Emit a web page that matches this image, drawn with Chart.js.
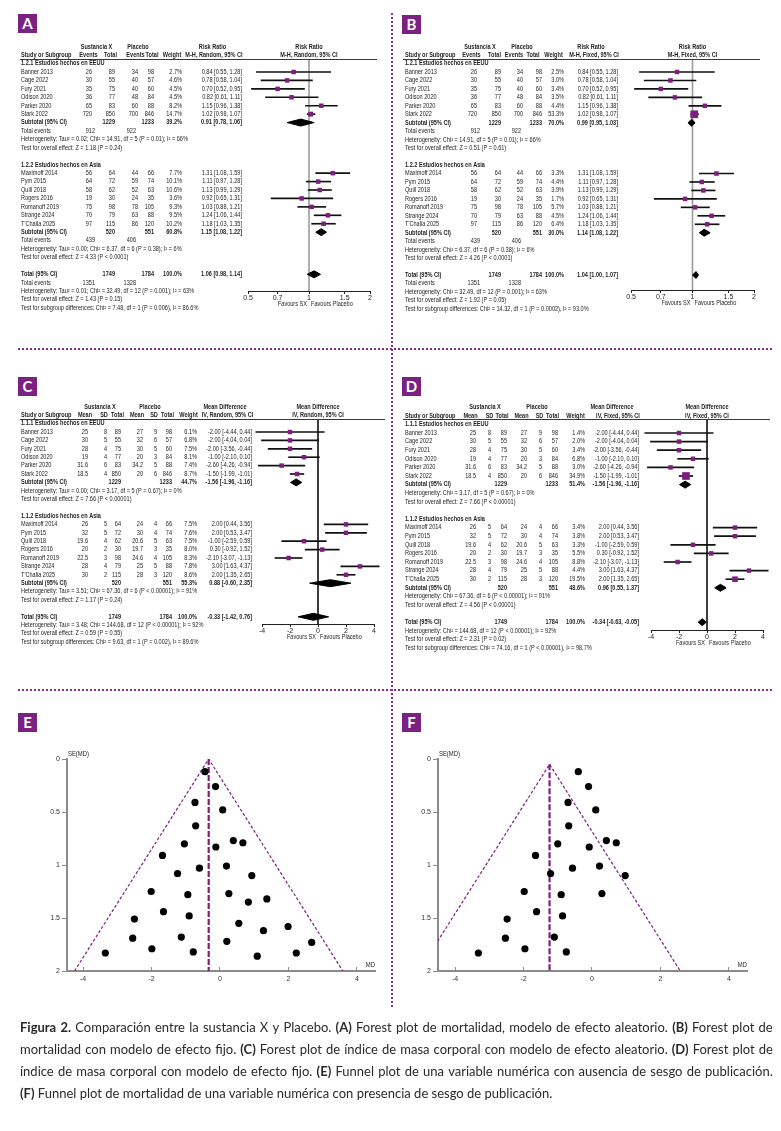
<!DOCTYPE html>
<html lang="es">
<head>
<meta charset="utf-8">
<title>Figura 2 - Sustancia X vs Placebo</title>
<script src="https://cdn.jsdelivr.net/npm/chart.js@4.4.1/dist/chart.umd.min.js"></script>
<style>
  html, body { margin: 0; padding: 0; background: #fff; }
  #page { position: relative; width: 781px; height: 1131px; overflow: hidden; background: #fff; }
  #page canvas { position: absolute; left: 0; top: 0; }
  .tag { position: absolute; width: 19px; height: 19px; background: #7a2182; color: #fff;
         font: bold 15px Lato, sans-serif; line-height: 19px; text-align: center; }
  .dots { position: absolute; }
  .dots.h { height: 2px; background: repeating-linear-gradient(90deg, #8b2c8f 0 2px, transparent 2px 4px); }
  .dots.v { width: 2px; background: repeating-linear-gradient(180deg, #8b2c8f 0 2px, transparent 2px 4px); }
  #caption { position: absolute; left: 20px; top: 1016px; width: 753px; font: 13px Lato, sans-serif;
             color: #2a2a2a; line-height: 22px; }
  #caption .ln { display: flex; justify-content: space-between; white-space: nowrap; }
  #caption .last { white-space: nowrap; }
</style>
</head>
<body>
<div id="page">
  <canvas id="forestA" width="781" height="1131"></canvas>
  <canvas id="forestB" width="781" height="1131"></canvas>
  <canvas id="forestC" width="781" height="1131"></canvas>
  <canvas id="forestD" width="781" height="1131"></canvas>
  <canvas id="funnelE" width="781" height="1131"></canvas>
  <canvas id="funnelF" width="781" height="1131"></canvas>

  <div class="dots h" style="left:18px;top:348px;width:754px"></div>
  <div class="dots h" style="left:18px;top:689px;width:754px"></div>
  <div class="dots v" style="left:391px;top:13px;height:995px"></div>

  <div class="tag" style="left:18px;top:14px">A</div>
  <div class="tag" style="left:402px;top:15px">B</div>
  <div class="tag" style="left:18px;top:377px">C</div>
  <div class="tag" style="left:402px;top:377px">D</div>
  <div class="tag" style="left:18px;top:713px">E</div>
  <div class="tag" style="left:402px;top:713px">F</div>

  <div id="caption"></div>
</div>

<script>
// ---------- values ----------
const groupSizes = [6, 7];
const titlesMort = ['1.2.1 Estudios hechos en EEUU', '1.2.2 Estudios hechos en Asia'];
const titlesBmi = ['1.1.1 Estudios hechos en EEUU', '1.1.2 Estudios hechos en Asia'];
const studyNames = ['Banner 2013', 'Cage 2022', 'Fury 2021', 'Odison 2020', 'Parker 2020', 'Stark 2022',
  'Maximoff 2014', 'Pym 2015', 'Quill 2018', 'Rogers 2016', 'Romanoff 2019', 'Strange 2024', "T'Challa 2025"];
const sxTotal = [89, 55, 75, 77, 83, 850, 64, 72, 62, 30, 98, 79, 115];
const plTotal = [98, 57, 60, 84, 88, 846, 66, 74, 63, 35, 105, 88, 120];
const subTotalSx = [1229, 520];
const subTotalPl = [1233, 551];
const totalN = [1749, 1784];

// mortality, risk ratio (A, B)
const sxEvents = [26, 30, 35, 36, 65, 720, 56, 64, 58, 19, 75, 70, 97];
const plEvents = [34, 40, 40, 48, 60, 700, 44, 59, 52, 24, 78, 63, 86];
const subEventsSx = [912, 439];
const subEventsPl = [922, 406];
const totalEvents = [1351, 1328];
const rr = [0.84, 0.78, 0.70, 0.82, 1.15, 1.02, 1.31, 1.11, 1.13, 0.92, 1.03, 1.24, 1.18];
const rrLow = [0.55, 0.58, 0.52, 0.61, 0.96, 0.98, 1.08, 0.97, 0.99, 0.65, 0.88, 1.06, 1.03];
const rrHigh = [1.28, 1.04, 0.95, 1.11, 1.38, 1.07, 1.59, 1.28, 1.29, 1.31, 1.21, 1.44, 1.35];
const weightA = [2.7, 4.6, 4.5, 4.5, 8.2, 14.7, 7.7, 10.1, 10.6, 3.6, 9.3, 9.5, 10.2];
const weightB = [2.5, 3.0, 3.4, 3.5, 4.4, 53.3, 3.3, 4.4, 3.9, 1.7, 5.7, 4.5, 6.4];
const poolA = [0.91, 1.15, 1.06];
const poolLowA = [0.78, 1.08, 0.98];
const poolHighA = [1.06, 1.22, 1.14];
const poolWeightA = [39.2, 60.8, 100];
const poolB = [0.99, 1.14, 1.04];
const poolLowB = [0.95, 1.08, 1.00];
const poolHighB = [1.03, 1.22, 1.07];
const poolWeightB = [70.0, 30.0, 100];
const statsA = [
  'Heterogeneity: Tau² = 0.02; Chi² = 14.91, df = 5 (P = 0.01); I² = 66%',
  'Test for overall effect: Z = 1.18 (P = 0.24)',
  'Heterogeneity: Tau² = 0.00; Chi² = 6.37, df = 6 (P = 0.38); I² = 6%',
  'Test for overall effect: Z = 4.33 (P < 0.0001)',
  'Heterogeneity: Tau² = 0.01; Chi² = 32.49, df = 12 (P = 0.001); I² = 63%',
  'Test for overall effect: Z = 1.43 (P = 0.15)',
  'Test for subgroup differences: Chi² = 7.48, df = 1 (P = 0.006), I² = 86.6%'
];
const statsB = [
  'Heterogeneity: Chi² = 14.91, df = 5 (P = 0.01); I² = 66%',
  'Test for overall effect: Z = 0.51 (P = 0.61)',
  'Heterogeneity: Chi² = 6.37, df = 6 (P = 0.38); I² = 6%',
  'Test for overall effect: Z = 4.26 (P < 0.0001)',
  'Heterogeneity: Chi² = 32.49, df = 12 (P = 0.001); I² = 63%',
  'Test for overall effect: Z = 1.92 (P = 0.05)',
  'Test for subgroup differences: Chi² = 14.32, df = 1 (P = 0.0002), I² = 93.0%'
];

// body mass index, mean difference (C, D)
const sxMean = [25, 30, 28, 19, 31.6, 18.5, 26, 32, 19.6, 20, 22.5, 28, 30];
const sxSd = [8, 5, 4, 4, 6, 4, 5, 5, 4, 2, 3, 4, 2];
const plMean = [27, 32, 30, 20, 34.2, 20, 24, 30, 20.6, 19.7, 24.6, 25, 28];
const plSd = [9, 6, 5, 3, 5, 6, 4, 4, 5, 3, 4, 5, 3];
const md = [-2.00, -2.00, -2.00, -1.00, -2.60, -1.50, 2.00, 2.00, -1.00, 0.30, -2.10, 3.00, 2.00];
const mdLow = [-4.44, -4.04, -3.56, -2.10, -4.26, -1.99, 0.44, 0.53, -2.59, -0.92, -3.07, 1.63, 1.35];
const mdHigh = [0.44, 0.04, -0.44, 0.10, -0.94, -1.01, 3.56, 3.47, 0.59, 1.52, -1.13, 4.37, 2.65];
const weightC = [6.1, 6.8, 7.5, 8.1, 7.4, 8.7, 7.5, 7.6, 7.5, 8.0, 8.3, 7.8, 8.6];
const weightD = [1.4, 2.0, 3.4, 6.8, 3.0, 34.9, 3.4, 3.8, 3.3, 5.5, 8.8, 4.4, 19.5];
const poolC = [-1.56, 0.88, -0.33];
const poolLowC = [-1.96, -0.60, -1.42];
const poolHighC = [-1.16, 2.35, 0.76];
const poolWeightC = [44.7, 55.3, 100];
const poolD = [-1.56, 0.96, -0.34];
const poolLowD = [-1.96, 0.55, -0.63];
const poolHighD = [-1.16, 1.37, -0.05];
const poolWeightD = [51.4, 48.6, 100];
const statsC = [
  'Heterogeneity: Tau² = 0.00; Chi² = 3.17, df = 5 (P = 0.67); I² = 0%',
  'Test for overall effect: Z = 7.66 (P < 0.00001)',
  'Heterogeneity: Tau² = 3.51; Chi² = 67.36, df = 6 (P < 0.00001); I² = 91%',
  'Test for overall effect: Z = 1.17 (P = 0.24)',
  'Heterogeneity: Tau² = 3.48; Chi² = 144.68, df = 12 (P < 0.00001); I² = 92%',
  'Test for overall effect: Z = 0.59 (P = 0.55)',
  'Test for subgroup differences: Chi² = 9.63, df = 1 (P = 0.002), I² = 89.6%'
];
const statsD = [
  'Heterogeneity: Chi² = 3.17, df = 5 (P = 0.67); I² = 0%',
  'Test for overall effect: Z = 7.66 (P < 0.00001)',
  'Heterogeneity: Chi² = 67.36, df = 6 (P < 0.00001); I² = 91%',
  'Test for overall effect: Z = 4.56 (P < 0.00001)',
  'Heterogeneity: Chi² = 144.68, df = 12 (P < 0.00001); I² = 92%',
  'Test for overall effect: Z = 2.31 (P = 0.02)',
  'Test for subgroup differences: Chi² = 74.16, df = 1 (P < 0.00001), I² = 98.7%'
];

const rrTicks = [0.5, 0.7, 1, 1.5, 2];
const rrTickLabels = ['0.5', '0.7', '1', '1.5', '2'];
const mdTicks = [-4, -2, 0, 2, 4];
const mdTickLabels = ['-4', '-2', '0', '2', '4'];
const seTicks = [0, 0.5, 1, 1.5, 2];
const seTickLabels = ['0', '0.5', '1', '1.5', '2'];

// funnel plots (E, F)
const funnelEmd = [-0.44, -0.13, -0.73, 0.08, -0.71, 0.39, 0.67, -1.04, -0.12, -1.68, -0.60, 0.19, -1.24, 0.93,
  -2.01, -0.94, 0.26, 1.37, 0.83, -1.65, -2.50, -0.90, 0.55, 1.99, 1.27, -2.55, -1.13, 0.20, 2.68, -3.35, -1.99,
  -0.78, 2.23, 1.09];
const funnelEse = [0.12, 0.26, 0.41, 0.48, 0.63, 0.77, 0.79, 0.80, 0.83, 0.91, 1.03, 1.01, 1.08, 1.10,
  1.25, 1.28, 1.27, 1.32, 1.35, 1.44, 1.51, 1.48, 1.55, 1.58, 1.62, 1.69, 1.68, 1.72, 1.73, 1.83, 1.79,
  1.82, 1.83, 1.86];
const funnelEtriMd = [-4.25, -0.33, 3.59];
const funnelEtriSe = [2, 0, 2];
const funnelEmeanMd = [-0.33, -0.33];
const funnelEmeanSe = [0, 2];

const funnelFmd = [-0.40, -0.10, -0.70, 0.11, -0.68, 0.42, 0.71, -1.00, -0.08, -1.65, -0.57, 0.22, -1.21, 0.97,
  -1.98, -0.90, 0.29, -1.62, -2.48, -0.86, -2.53, -1.10, -3.32, -1.96, -0.75];
const funnelFse = [0.12, 0.26, 0.41, 0.48, 0.63, 0.77, 0.79, 0.80, 0.83, 0.91, 1.03, 1.01, 1.08, 1.10,
  1.25, 1.28, 1.27, 1.44, 1.51, 1.48, 1.69, 1.68, 1.83, 1.79, 1.82];
const funnelFtriMd = [-5.06, -1.24, 2.58];
const funnelFtriSe = [2, 0.05, 2];
const funnelFmeanMd = [-1.24, -1.24];
const funnelFmeanSe = [0.05, 2];

const captionLines = [
  'Figura 2. Comparación entre la sustancia X y Placebo. (A) Forest plot de mortalidad, modelo de efecto aleatorio. (B) Forest plot de',
  'mortalidad con modelo de efecto fijo. (C) Forest plot de índice de masa corporal con modelo de efecto aleatorio. (D) Forest plot de',
  'índice de masa corporal con modelo de efecto fijo. (E) Funnel plot de una variable numérica con ausencia de sesgo de publicación.',
  '(F) Funnel plot de mortalidad de una variable numérica con presencia de sesgo de publicación.'
];

// ---------- drawing ----------
const W = 781, H = 1131;
const PURPLE = '#7e1f80';
const INK = '#1f1f1f';
const FONT = '"Liberation Sans", Arial, sans-serif';
const NARROW = 0.82;
const FOREST_AXIS_H = 20;
const FUNNEL_X_H = 16, FUNNEL_Y_W = 20;

Chart.defaults.font.family = FONT;
Chart.defaults.animation = false;

// page geometry of each panel (pixels)
const geoA = { left: 248, right: 370, top: 59, axisY: 291, row0: 72, pitch: 8.43, studyX: 21, rule: [20, 377],
  grp: [96.5, 138, 212.5],
  head: { e1: 88.5, n1: 110.5, e2: 135.5, n2: 152, w: 172, ci: 214 },
  val: { e1: 92, n1: 115, e2: 138, n2: 154, w: 182, ci: 242, t1: 95, t2: 136 },
  refColor: '#9b9b9b', refWidth: 1.6 };
const geoB = { left: 631, right: 754, top: 59, axisY: 290, row0: 72, pitch: 8.46, studyX: 405, rule: [403, 760],
  grp: [480, 522, 591],
  head: { e1: 471.5, n1: 494.5, e2: 514, n2: 533, w: 553.5, ci: 594 },
  val: { e1: 477, n1: 501, e2: 523, n2: 542, w: 564, ci: 618, t1: 480, t2: 521 },
  refColor: '#9b9b9b', refWidth: 1.6 };
const geoC = { left: 262, right: 374, top: 419, axisY: 624, row0: 432, pitch: 8.4, studyX: 21, rule: [20, 385],
  grp: [100, 150, 225],
  head: { m1: 85, s1: 104, n1: 117.5, m2: 137, s2: 154, n2: 167.5, w: 188.5, ci: 227.5 },
  val: { m1: 88, s1: 107, n1: 121, m2: 143, s2: 157, n2: 172, w: 197, ci: 252 },
  refColor: '#222', refWidth: 1 };
const geoD = { left: 651, right: 763, top: 419, axisY: 630, row0: 433, pitch: 8.6, studyX: 405, rule: [403, 770],
  grp: [485, 537, 612],
  head: { m1: 470.5, s1: 489.5, n1: 502, m2: 521.5, s2: 539.5, n2: 552.5, w: 575.5, ci: 618 },
  val: { m1: 476, s1: 491, n1: 507, m2: 527, s2: 542, n2: 558, w: 585, ci: 639 },
  refColor: '#222', refWidth: 1 };
const geoE = { left: 67, right: 375, top: 759, bottom: 971, xMin: -4.47, xMax: 4.53 };
const geoF = { left: 438, right: 747, top: 759, bottom: 971, xMin: -4.5, xMax: 4.53 };

function label(ctx, s, x, y, align, bold, size) {
  ctx.save();
  ctx.translate(x, y);
  ctx.scale(NARROW, 1);
  ctx.font = (bold ? 'bold ' : '') + (size || 6.8) + 'px ' + FONT;
  ctx.textAlign = align || 'left';
  ctx.textBaseline = 'middle';
  ctx.fillStyle = INK;
  ctx.fillText(s, 0, 0);
  ctx.restore();
}

const ciText = (e, l, h) => `${e.toFixed(2)} [${l.toFixed(2)}, ${h.toFixed(2)}]`;
const squareSide = w => Math.min(7.7, 4.5 + Math.max(0, w - 12) * 0.15);
const diamond = (e, lo, hi, r, h) => [
  { x: lo, y: r }, { x: e, y: r - h }, { x: hi, y: r }, { x: e, y: r + h }, { x: lo, y: r }
];

// row numbers of every line of a forest table
function forestLayout(hasEvents) {
  const L = { study: [], sub: [], subEvents: [], het: [], z: [], title: [] };
  let r = -1;
  groupSizes.forEach(n => {
    L.title.push(r++);
    for (let k = 0; k < n; k++) L.study.push(r++);
    L.sub.push(r++);
    if (hasEvents) L.subEvents.push(r++);
    L.het.push(r++);
    L.z.push(r++);
    r++;
  });
  L.total = r++;
  if (hasEvents) L.totEvents = r++;
  L.totHet = r++;
  L.totZ = r++;
  L.subDiff = r++;
  return L;
}

function forestRows(p, L) {
  const isRR = p.kind === 'rr';
  const rows = [];
  let s = 0;
  groupSizes.forEach((n, g) => {
    rows.push({ r: L.title[g], text: p.titles[g], bold: true });
    for (let k = 0; k < n; k++, s++) {
      const cells = isRR
        ? { e1: sxEvents[s], n1: sxTotal[s], e2: plEvents[s], n2: plTotal[s] }
        : { m1: sxMean[s], s1: sxSd[s], n1: sxTotal[s], m2: plMean[s], s2: plSd[s], n2: plTotal[s] };
      cells.w = p.w[s].toFixed(1) + '%';
      cells.ci = ciText(p.est[s], p.lo[s], p.hi[s]);
      rows.push({ r: L.study[s], text: studyNames[s], cells });
    }
    rows.push({ r: L.sub[g], text: 'Subtotal (95% CI)', bold: true, cells: {
      n1: subTotalSx[g], n2: subTotalPl[g], w: p.poolW[g].toFixed(1) + '%',
      ci: ciText(p.pool[g], p.poolLo[g], p.poolHi[g]) } });
    if (isRR) rows.push({ r: L.subEvents[g], text: 'Total events', cells: { t1: subEventsSx[g], t2: subEventsPl[g] } });
    rows.push({ r: L.het[g], text: p.stats[2 * g] });
    rows.push({ r: L.z[g], text: p.stats[2 * g + 1] });
  });
  rows.push({ r: L.total, text: 'Total (95% CI)', bold: true, cells: {
    n1: totalN[0], n2: totalN[1], w: p.poolW[2].toFixed(1) + '%', ci: ciText(p.pool[2], p.poolLo[2], p.poolHi[2]) } });
  if (isRR) rows.push({ r: L.totEvents, text: 'Total events', cells: { t1: totalEvents[0], t2: totalEvents[1] } });
  rows.push({ r: L.totHet, text: p.stats[4] });
  rows.push({ r: L.totZ, text: p.stats[5] });
  rows.push({ r: L.subDiff, text: p.stats[6] });
  return rows;
}

function tablePlugin(p, L) {
  const g = p.geo;
  const rows = forestRows(p, L);
  const heads = p.kind === 'rr'
    ? { e1: 'Events', n1: 'Total', e2: 'Events', n2: 'Total', w: 'Weight', ci: p.method }
    : { m1: 'Mean', s1: 'SD', n1: 'Total', m2: 'Mean', s2: 'SD', n2: 'Total', w: 'Weight', ci: p.method };
  return {
    id: 'forestTable',
    afterDraw(chart) {
      const { ctx, chartArea: a, scales: { y } } = chart;
      const Y = r => y.getPixelForValue(r);
      const mid = (a.left + a.right) / 2;
      ctx.save();
      ctx.strokeStyle = '#3a3a3a';
      ctx.lineWidth = 1;
      ctx.beginPath();
      ctx.moveTo(g.rule[0], Math.round(a.top) + 0.5);
      ctx.lineTo(g.rule[1], Math.round(a.top) + 0.5);
      ctx.stroke();
      ctx.restore();

      ['Sustancia X', 'Placebo', p.effect].forEach((t, i) => label(ctx, t, g.grp[i], Y(-3), 'center', true));
      label(ctx, p.effect, mid, Y(-3), 'center', true);
      label(ctx, 'Study or Subgroup', g.studyX, Y(-2), 'left', true);
      Object.keys(heads).forEach(k => label(ctx, heads[k], g.head[k], Y(-2), 'center', true));
      label(ctx, p.method, mid, Y(-2), 'center', true);

      rows.forEach(row => {
        label(ctx, row.text, g.studyX, Y(row.r), 'left', row.bold);
        if (row.cells) {
          Object.keys(row.cells).forEach(k =>
            label(ctx, String(row.cells[k]), g.val[k], Y(row.r), 'right', row.bold));
        }
      });

      label(ctx, 'Favours SX', mid - 2, g.axisY + 13, 'right');
      label(ctx, 'Favours Placebo', mid + 2, g.axisY + 13, 'left');
    }
  };
}

function forestChart(id, p) {
  const g = p.geo;
  const L = forestLayout(p.kind === 'rr');
  const yMin = (g.top - g.row0) / g.pitch;
  const yMax = (g.axisY - g.row0) / g.pitch;
  const half = 3.5 / g.pitch;
  const ref = p.kind === 'rr' ? 1 : 0;
  const poolRows = [L.sub[0], L.sub[1], L.total];

  const datasets = [
    { type: 'scatter', data: p.est.map((e, i) => ({ x: e, y: L.study[i] })), pointStyle: 'rect',
      pointRadius: p.w.map(w => squareSide(w) / Math.SQRT2), backgroundColor: PURPLE, borderWidth: 0,
      clip: false, order: 1 },
    { type: 'bar', indexAxis: 'y', data: p.est.map((e, i) => ({ x: [p.lo[i], p.hi[i]], y: L.study[i] })),
      backgroundColor: '#111', barThickness: 1, borderWidth: 0, clip: false, order: 2 },
    { type: 'scatter', showLine: true, data: [{ x: ref, y: yMin }, { x: ref, y: yMax }],
      borderColor: g.refColor, borderWidth: g.refWidth, pointRadius: 0, order: 3 }
  ];
  p.pool.forEach((e, k) => datasets.push({
    type: 'scatter', showLine: true, fill: 'shape',
    data: diamond(e, p.poolLo[k], p.poolHi[k], poolRows[k], half),
    borderColor: '#000', backgroundColor: '#000', borderWidth: 1, pointRadius: 0, clip: false, order: 0
  }));

  return new Chart(document.getElementById(id), {
    type: 'scatter',
    data: { datasets },
    options: {
      responsive: false,
      events: [],
      layout: {
        autoPadding: false,
        padding: { left: g.left, right: W - g.right, top: g.top, bottom: H - g.axisY - FOREST_AXIS_H }
      },
      plugins: { legend: { display: false }, tooltip: { enabled: false } },
      scales: {
        x: {
          type: p.kind === 'rr' ? 'logarithmic' : 'linear',
          position: 'bottom',
          offset: false,
          min: p.ticks[0],
          max: p.ticks[p.ticks.length - 1],
          afterBuildTicks: s => { s.ticks = p.ticks.map(v => ({ value: v })); },
          afterFit: s => { s.height = FOREST_AXIS_H; s.paddingLeft = 0; s.paddingRight = 0; },
          ticks: { autoSkip: false, maxRotation: 0, padding: 0, color: INK, font: { size: 7 },
                   callback: (v, i) => p.tickLabels[i] },
          grid: { drawOnChartArea: false, drawTicks: true, tickLength: 3, color: '#222', offset: false },
          border: { color: '#222', width: 1 }
        },
        // the bar dataset would otherwise turn on category-style offsets for the row axis
        y: { type: 'linear', display: false, reverse: true, offset: false, grid: { offset: false },
             min: yMin, max: yMax }
      }
    },
    plugins: [tablePlugin(p, L)]
  });
}

function funnelChart(id, g, mdVals, seVals, triMd, triSe, meanMd, meanSe) {
  const axisNames = {
    id: 'axisNames',
    afterDraw(chart) {
      const { ctx, chartArea: a } = chart;
      label(ctx, 'SE(MD)', a.left + 1, a.top - 5, 'left', false, 7.2);
      label(ctx, 'MD', a.right, a.bottom - 6, 'right', false, 7.2);
    }
  };
  return new Chart(document.getElementById(id), {
    type: 'scatter',
    data: {
      datasets: [
        { data: mdVals.map((v, i) => ({ x: v, y: seVals[i] })), backgroundColor: '#000', borderWidth: 0,
          pointRadius: 3.6, order: 1 },
        { showLine: true, data: triMd.map((v, i) => ({ x: v, y: triSe[i] })), borderColor: PURPLE,
          borderWidth: 1.2, borderDash: [3, 2], pointRadius: 0, order: 2 },
        { showLine: true, data: meanMd.map((v, i) => ({ x: v, y: meanSe[i] })), borderColor: PURPLE,
          borderWidth: 2.2, borderDash: [6, 2], pointRadius: 0, order: 3 }
      ]
    },
    options: {
      responsive: false,
      events: [],
      layout: {
        autoPadding: false,
        padding: { left: g.left - FUNNEL_Y_W, right: W - g.right, top: g.top, bottom: H - g.bottom - FUNNEL_X_H }
      },
      plugins: { legend: { display: false }, tooltip: { enabled: false } },
      scales: {
        x: {
          type: 'linear', min: g.xMin, max: g.xMax, bounds: 'data',
          afterBuildTicks: s => { s.ticks = mdTicks.map(v => ({ value: v })); },
          afterFit: s => { s.height = FUNNEL_X_H; s.paddingLeft = 0; s.paddingRight = 0; },
          ticks: { autoSkip: false, maxRotation: 0, padding: 8, color: '#333', font: { size: 7 },
                   callback: (v, i) => mdTickLabels[i] },
          grid: { drawOnChartArea: false, drawTicks: true, tickLength: -4, color: '#8a8a8a', lineWidth: 1 },
          border: { color: '#8a8a8a', width: 2 }
        },
        y: {
          type: 'linear', reverse: true, min: 0, max: 2, bounds: 'data',
          afterBuildTicks: s => { s.ticks = seTicks.map(v => ({ value: v })); },
          afterFit: s => { s.width = FUNNEL_Y_W; s.paddingTop = 0; s.paddingBottom = 0; },
          ticks: { autoSkip: false, padding: 2, color: '#333', font: { size: 7 },
                   callback: (v, i) => seTickLabels[i] },
          grid: { drawOnChartArea: false, drawTicks: true, tickLength: 5, color: '#8a8a8a', lineWidth: 1 },
          border: { color: '#8a8a8a', width: 2 }
        }
      }
    },
    plugins: [axisNames]
  });
}

forestChart('forestA', { kind: 'rr', effect: 'Risk Ratio', method: 'M-H, Random, 95% CI', titles: titlesMort,
  est: rr, lo: rrLow, hi: rrHigh, w: weightA, pool: poolA, poolLo: poolLowA, poolHi: poolHighA,
  poolW: poolWeightA, stats: statsA, ticks: rrTicks, tickLabels: rrTickLabels, geo: geoA });
forestChart('forestB', { kind: 'rr', effect: 'Risk Ratio', method: 'M-H, Fixed, 95% CI', titles: titlesMort,
  est: rr, lo: rrLow, hi: rrHigh, w: weightB, pool: poolB, poolLo: poolLowB, poolHi: poolHighB,
  poolW: poolWeightB, stats: statsB, ticks: rrTicks, tickLabels: rrTickLabels, geo: geoB });
forestChart('forestC', { kind: 'md', effect: 'Mean Difference', method: 'IV, Random, 95% CI', titles: titlesBmi,
  est: md, lo: mdLow, hi: mdHigh, w: weightC, pool: poolC, poolLo: poolLowC, poolHi: poolHighC,
  poolW: poolWeightC, stats: statsC, ticks: mdTicks, tickLabels: mdTickLabels, geo: geoC });
forestChart('forestD', { kind: 'md', effect: 'Mean Difference', method: 'IV, Fixed, 95% CI', titles: titlesBmi,
  est: md, lo: mdLow, hi: mdHigh, w: weightD, pool: poolD, poolLo: poolLowD, poolHi: poolHighD,
  poolW: poolWeightD, stats: statsD, ticks: mdTicks, tickLabels: mdTickLabels, geo: geoD });

funnelChart('funnelE', geoE, funnelEmd, funnelEse, funnelEtriMd, funnelEtriSe, funnelEmeanMd, funnelEmeanSe);
funnelChart('funnelF', geoF, funnelFmd, funnelFse, funnelFtriMd, funnelFtriSe, funnelFmeanMd, funnelFmeanSe);

// caption, justified line by line like the printed figure
const boldWord = /^(Figura|2\.|\([A-F]\))$/;
const cap = document.getElementById('caption');
captionLines.forEach((line, i) => {
  const last = i === captionLines.length - 1;
  const div = document.createElement('div');
  div.className = last ? 'last' : 'ln';
  line.split(' ').forEach(word => {
    const el = document.createElement(boldWord.test(word) ? 'b' : 'span');
    el.textContent = word;
    div.appendChild(el);
    if (last) div.appendChild(document.createTextNode(' '));
  });
  cap.appendChild(div);
});
</script>
</body>
</html>
